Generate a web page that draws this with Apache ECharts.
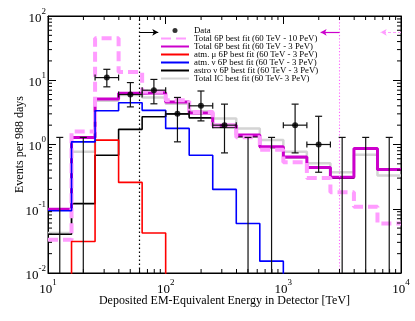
<!DOCTYPE html>
<html><head><meta charset="utf-8">
<script src="https://cdn.jsdelivr.net/npm/echarts@6/dist/echarts.min.js"></script>
<style>html,body{margin:0;padding:0;background:#fff}#c{width:415px;height:321px}</style>
</head><body><div id="c"></div>
<script>
// ---- data ----
const binEdges   = [10, 15.85, 25.12, 39.81, 63.10, 100, 158.5, 251.2, 398.1, 631.0, 1000, 1585, 2512, 3981, 6310, 10000];
const binCenters = [12.59, 19.95, 31.62, 50.12, 79.43, 125.9, 199.5, 316.2, 501.2, 794.3, 1259, 1995, 3162, 5012, 7943];
const dataCounts = [0, 0, 11, 6, 7, 3, 4, 2, 0, 0, 2, 1, 0, 0, 0];
const dataLow    = [0, 0, 7.9, 3.85, 4.3, 1.1, 2.33, 0.74, 0, 0, 0.74, 0.37, 0, 0, 0];
const dataHigh   = [1.29, 1.29, 14.8, 9.2, 10.3, 5.4, 6.8, 4.25, 1.29, 1.29, 4.25, 2.75, 1.29, 1.29, 1.29];
const total10PeV = [0.033, 1.6, 45, 13.5, 6.6, 4.9, 3.2, 2.0, 1.3, 0.83, 0.53, 0.30, 0.18, 0.107, 0.059];
const total3PeV  = [0.098, 1.29, 5.1, 6.3, 6.4, 4.6, 3.1, 2.0, 1.4, 0.92, 0.64, 0.44, 0.31, 0.87, 0.41];
const atmMu      = [0, 0.031, 1.17, 0.257, 0.042, 0, 0, 0, 0, 0, 0, 0, 0, 0, 0];
const atmNu      = [0.093, 1.1, 3.35, 4.47, 3.4, 1.78, 0.68, 0.20, 0.059, 0.0153, 0, 0, 0, 0, 0];
const astroNu    = [0.04, 0.12, 0.68, 1.72, 2.7, 3.0, 2.6, 1.85, 1.32, 0.9, 0.63, 0.43, 0.30, 0.86, 0.40];
const totalIC    = [0.042, 0.77, 4.8, 5.9, 5.4, 4.3, 3.3, 2.55, 1.78, 1.17, 0.77, 0.51, 0.37, 0.69, 0.33];
const xTicks = [10, 100, 1000, 10000];
const yTicks = [0.01, 0.1, 1, 10, 100];
const thresholdLow = 60;     // TeV
const thresholdHigh = 3000;  // TeV
const arrowY = 55.7;
const arrowBlackEnd = 86.5, arrowMagEnd = 2075, arrowPinkEnd = 6720;
const names = {
  data: 'Data',
  t10: 'Total 6P best fit (60 TeV - 10 PeV)',
  t3: 'Total 6P best fit (60 TeV - 3 PeV)',
  mu: 'atm. \u03bc 6P best fit (60 TeV - 3 PeV)',
  nu: 'atm. \u03bd 6P best fit (60 TeV - 3 PeV)',
  astro: 'astro \u03bd 6P best fit (60 TeV - 3 PeV)',
  ic: 'Total IC best fit (60 TeV- 3 PeV)'
};
// ---- build ----
const xMin = xTicks[0], xMax = xTicks[xTicks.length-1], yMin = yTicks[0], yMax = yTicks[yTicks.length-1];
const TINY = 1e-4;
function steps(vals){
  const pts = [];
  for (let i = 0; i < vals.length; i++) pts.push([binEdges[i], vals[i] > 0 ? vals[i] : TINY]);
  const last = vals[vals.length-1];
  pts.push([binEdges[vals.length], last > 0 ? last : TINY]);
  return pts;
}
const minorX = [], minorY = [];
for (let d = xMin; d < xMax; d *= 10) for (let k = 2; k <= 9; k++) minorX.push(d*k);
for (let d = yMin; d < yMax*0.999; d *= 10) for (let k = 2; k <= 9; k++) minorY.push(d*k);
const minorItems = minorX.map(v => [v, 1, 0]).concat(minorY.map(v => [10, v, 1]));
const errItems = binCenters.map((c, i) => [c, dataHigh[i], dataCounts[i], dataLow[i], binEdges[i], binEdges[i+1]]);
const dataPts = binCenters.map((c, i) => [c, dataCounts[i]]).filter(p => p[1] > 0);

const serif = 'Liberation Serif, Times New Roman, serif';
function expLabel(v){ return '{b|10}{s|' + Math.round(Math.log10(v)) + '}'; }
const richLab = {
  b: {fontSize: 13, fontFamily: serif, color: '#000', lineHeight: 18, verticalAlign: 'bottom'},
  s: {fontSize: 9, fontFamily: serif, color: '#000', lineHeight: 6, verticalAlign: 'top'}
};
function lineSeries(name, vals, color, width, z, type){
  return {name, type: 'line', step: 'end', data: steps(vals), symbol: 'none', showSymbol: false,
    lineStyle: {color, width, type: type || 'solid'}, itemStyle: {color}, z, animation: false, clip: true};
}
const chart = echarts.init(document.getElementById('c'), null, {renderer: 'canvas'});
const option = {
  animation: false,
  grid: {left: 48, right: 14, top: 16, bottom: 48, show: true, borderColor: '#000', borderWidth: 1,
         containLabel: false, outerBoundsMode: 'none'},
  xAxis: [
    {type: 'log', logBase: 10, min: xMin, max: xMax, splitNumber: 3, position: 'bottom',
     name: 'Deposited EM-Equivalent Energy in Detector [TeV]', nameLocation: 'middle', nameGap: 22,
     nameMoveOverlap: false,
     nameTextStyle: {fontSize: 12, fontFamily: serif, color: '#000'},
     axisLine: {lineStyle: {color: '#000', width: 1}}, axisTick: {inside: true, length: 8, lineStyle: {color: '#000'}},
     axisLabel: {formatter: expLabel, rich: richLab, margin: 5}, splitLine: {show: false}},
    {type: 'log', logBase: 10, min: xMin, max: xMax, splitNumber: 3, position: 'top',
     axisLine: {lineStyle: {color: '#000'}}, axisTick: {inside: true, length: 8, lineStyle: {color: '#000'}},
     axisLabel: {show: false}, splitLine: {show: false}}
  ],
  yAxis: [
    {type: 'log', logBase: 10, min: yMin, max: yMax, splitNumber: 4, position: 'left',
     name: 'Events per 988 days', nameLocation: 'middle', nameGap: 22, nameMoveOverlap: false,
     nameTextStyle: {fontSize: 12, fontFamily: serif, color: '#000'},
     axisLine: {lineStyle: {color: '#000'}}, axisTick: {inside: true, length: 8, lineStyle: {color: '#000'}},
     axisLabel: {formatter: expLabel, rich: richLab, margin: 2}, splitLine: {show: false}},
    {type: 'log', logBase: 10, min: yMin, max: yMax, splitNumber: 4, position: 'right',
     axisLine: {lineStyle: {color: '#000'}}, axisTick: {inside: true, length: 8, lineStyle: {color: '#000'}},
     axisLabel: {show: false}, splitLine: {show: false}}
  ],
  legend: {
    orient: 'vertical', left: 155, top: 21, itemWidth: 28, itemHeight: 5, itemGap: -1,
    textStyle: {fontSize: 8.8, fontFamily: serif, color: '#000', lineHeight: 7},
    data: [
      {name: names.data, icon: 'circle'},
      {name: names.t10, itemStyle: {opacity: 0}},
      {name: names.t3, itemStyle: {opacity: 0}},
      {name: names.mu, itemStyle: {opacity: 0}},
      {name: names.nu, itemStyle: {opacity: 0}},
      {name: names.astro, itemStyle: {opacity: 0}},
      {name: names.ic, itemStyle: {opacity: 0}}
    ]
  },
  series: [
    lineSeries(names.ic, totalIC, '#d4d4d4', 2.5, 2),
    lineSeries(names.astro, astroNu, '#000000', 1.6, 3),
    lineSeries(names.t3, total3PeV, '#cc00cc', 3, 4),
    lineSeries(names.t10, total10PeV, '#ff9cff', 4, 5, [10, 5]),
    lineSeries(names.mu, atmMu, '#ff0000', 1.6, 6),
    lineSeries(names.nu, atmNu, '#0000ff', 1.6, 7),
    {name: 'guides', type: 'line', data: [], z: 1, silent: true,
     markLine: {silent: true, symbol: 'none', animation: false, label: {show: false},
       data: [
         {xAxis: thresholdLow, lineStyle: {color: '#000', type: [1.5, 2.5], width: 1.2}},
         {xAxis: thresholdHigh, lineStyle: {color: '#ff66ff', type: [1.2, 2], width: 1.1}},
         [{coord: [thresholdLow, arrowY], symbol: 'none'}, {coord: [arrowBlackEnd, arrowY], symbol: 'arrow', symbolSize: [5, 6], lineStyle: {color: '#000', width: 1, type: 'solid'}}],
         [{coord: [thresholdHigh, arrowY], symbol: 'none'}, {coord: [arrowMagEnd, arrowY], symbol: 'arrow', symbolSize: [5, 6], lineStyle: {color: '#cc00cc', width: 1.2, type: 'solid'}}],
         [{coord: [xMax, arrowY], symbol: 'none'}, {coord: [arrowPinkEnd, arrowY], symbol: 'arrow', symbolSize: [5, 6], lineStyle: {color: '#ff9cff', width: 1.2, type: [3, 2]}}]
       ]}},
    {name: 'errors', type: 'custom', data: errItems, encode: {x: 0, y: 1}, z: 9, clip: false,
     renderItem: function(params, api){
       const x = api.value(0), hi = api.value(1), n = api.value(2), lo = api.value(3), xl = api.value(4), xr = api.value(5);
       const top = api.coord([x, hi]);
       const st = {stroke: '#111', lineWidth: 1.2};
       const ch = [];
       const L = (x1, y1, x2, y2) => ch.push({type: 'line', shape: {x1, y1, x2, y2}, style: st});
       const bot = api.coord([x, n > 0 ? lo : yMin]);
       L(top[0], top[1], bot[0], bot[1]);
       L(top[0]-3.5, top[1], top[0]+3.5, top[1]);
       if (n > 0) {
         L(bot[0]-3.5, bot[1], bot[0]+3.5, bot[1]);
         const l = api.coord([xl, n]), r = api.coord([xr, n]);
         L(l[0], l[1], r[0], r[1]);
         L(l[0], l[1]-3, l[0], l[1]+3);
         L(r[0], r[1]-3, r[0], r[1]+3);
       }
       return {type: 'group', children: ch};
     }},
    {name: names.data, type: 'scatter', data: dataPts, symbol: 'circle', symbolSize: 6,
     itemStyle: {color: '#000'}, z: 10},
    {name: 'minorTicks', type: 'custom', data: minorItems, encode: {x: 0, y: 1}, z: 8, clip: false, silent: true,
     renderItem: function(params, api){
       const kind = api.value(2);
       const st = {stroke: '#000', lineWidth: 1};
       if (kind === 0) {
         const v = api.value(0);
         const b = api.coord([v, yMin]), t = api.coord([v, yMax]);
         return {type: 'group', children: [
           {type: 'line', shape: {x1: b[0], y1: b[1], x2: b[0], y2: b[1]-4}, style: st},
           {type: 'line', shape: {x1: t[0], y1: t[1], x2: t[0], y2: t[1]+4}, style: st}]};
       } else {
         const v = api.value(1);
         const l = api.coord([xMin, v]), r = api.coord([xMax, v]);
         return {type: 'group', children: [
           {type: 'line', shape: {x1: l[0], y1: l[1], x2: l[0]+4, y2: l[1]}, style: st},
           {type: 'line', shape: {x1: r[0], y1: r[1], x2: r[0]-4, y2: r[1]}, style: st}]};
       }
     }}
  ]
};
chart.setOption(option);
</script></body></html>
